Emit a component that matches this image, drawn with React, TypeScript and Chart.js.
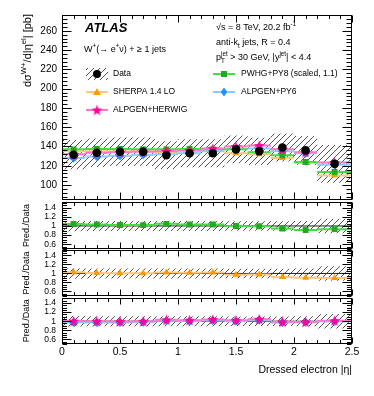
import React, { useEffect, useRef } from 'react';
import { Chart, registerables } from 'chart.js';

Chart.register(...registerables);

// ---------------- data ----------------
const binEdges = [0, 0.2, 0.4, 0.6, 0.8, 1.0, 1.2, 1.4, 1.6, 1.8, 2.0, 2.2, 2.5];
const binCenters = [0.1, 0.3, 0.5, 0.7, 0.9, 1.1, 1.3, 1.5, 1.7, 1.9, 2.1, 2.35];
const dataXsec = [131.5, 133.5, 134.5, 134.5, 131, 133, 133, 137, 135, 139, 136, 122];
const dataRelUnc = [0.115, 0.11, 0.11, 0.11, 0.11, 0.11, 0.11, 0.105, 0.105, 0.105, 0.11, 0.16];
const pwhgPy8 = [137, 137.5, 137.5, 137, 137, 137.5, 137, 137, 134, 131, 124, 113.5];
const sherpa = [135, 135, 135, 135, 134, 135, 135.5, 133, 132, 128, 123, 110];
const alpgenHerwig = [132, 133.5, 134, 134.5, 135, 136, 138, 140, 141, 137, 134, 123.5];
const alpgenPy6 = [128, 129.5, 130.5, 131.5, 132, 133, 135, 137, 138, 135, 133, 121];
const mainYTicks = [100, 120, 140, 160, 180, 200, 220, 240, 260];
const ratioYTicks = [0.6, 0.8, 1, 1.2, 1.4];
const xTicks = [0, 0.5, 1, 1.5, 2, 2.5];
const mainYRange = [85, 276.4];
const ratioYRange = [0.5, 1.52];

const FONT = "'Liberation Sans', Arial, Helvetica, sans-serif";
const COL = {
  green: '#22aa22', greenLine: '#44dd44',
  orange: '#ff9900', orangeLine: '#ffc680',
  pink: '#ff0099', pinkLine: '#ff77cc',
  blue: '#1e8fff', blueLine: '#8fcbff',
};

// ---------------- helpers ----------------
const segs = (vals: number[]) => {
  const out: any[] = [];
  vals.forEach((v, i) => {
    out.push({ x: binEdges[i], y: v }, { x: binEdges[i + 1], y: v }, { x: binEdges[i + 1], y: null });
  });
  return out;
};
const steps = (vals: number[]) =>
  vals.flatMap((v, i) => [{ x: binEdges[i], y: v }, { x: binEdges[i + 1], y: v }]);
const pts = (vals: number[]) => vals.map((v, i) => ({ x: binCenters[i], y: v }));

function makeHatch(): CanvasPattern {
  const s = 6;
  const t = document.createElement('canvas');
  t.width = s; t.height = s;
  const c = t.getContext('2d')!;
  c.strokeStyle = '#555555';
  c.lineWidth = 1;
  c.beginPath();
  c.moveTo(0, s); c.lineTo(s, 0);
  c.moveTo(-1, 1); c.lineTo(1, -1);
  c.moveTo(s - 1, s + 1); c.lineTo(s + 1, s - 1);
  c.stroke();
  return document.createElement('canvas').getContext('2d')!.createPattern(t, 'repeat')!;
}

function makeStar(color: string): HTMLCanvasElement {
  const size = 13;
  const cv = document.createElement('canvas');
  cv.width = size; cv.height = size;
  const c = cv.getContext('2d')!;
  const cx = size / 2, cy = size / 2 + 0.5, ro = 5.8, ri = 2.4;
  c.beginPath();
  for (let k = 0; k < 10; k++) {
    const r = k % 2 === 0 ? ro : ri;
    const a = -Math.PI / 2 + (k * Math.PI) / 5;
    const x = cx + r * Math.cos(a), y = cy + r * Math.sin(a);
    if (k === 0) c.moveTo(x, y); else c.lineTo(x, y);
  }
  c.closePath();
  c.fillStyle = color;
  c.fill();
  return cv;
}

type Part = { t: string; m?: 'sup' | 'sub' | 'subsup' };
function drawRich(ctx: CanvasRenderingContext2D, parts: Part[], x: number, y: number, size: number, draw = true) {
  let cx = x;
  const small = size * 0.7;
  for (const p of parts) {
    if (!p.m) {
      ctx.font = `${size}px ${FONT}`;
      if (draw) ctx.fillText(p.t, cx, y);
      cx += ctx.measureText(p.t).width;
    } else if (p.m === 'sup') {
      ctx.font = `${small}px ${FONT}`;
      if (draw) ctx.fillText(p.t, cx, y - size * 0.42);
      cx += ctx.measureText(p.t).width;
    } else if (p.m === 'sub') {
      ctx.font = `${small}px ${FONT}`;
      if (draw) ctx.fillText(p.t, cx, y + size * 0.28);
      cx += ctx.measureText(p.t).width;
    } else {
      const [a, b] = p.t.split('|');
      ctx.font = `${small}px ${FONT}`;
      if (draw) {
        ctx.fillText(a, cx, y + size * 0.28);
        ctx.fillText(b, cx, y - size * 0.42);
      }
      cx += Math.max(ctx.measureText(a).width, ctx.measureText(b).width);
    }
  }
  return cx - x;
}

function drawMarker(ctx: CanvasRenderingContext2D, kind: string, x: number, y: number, color: string, star?: HTMLCanvasElement) {
  ctx.fillStyle = color;
  ctx.beginPath();
  if (kind === 'circle') {
    ctx.arc(x, y, 4, 0, Math.PI * 2);
    ctx.fill();
  } else if (kind === 'rect') {
    ctx.fillRect(x - 3, y - 3, 6, 6);
  } else if (kind === 'triangle') {
    ctx.moveTo(x, y - 4); ctx.lineTo(x + 4, y + 3); ctx.lineTo(x - 4, y + 3); ctx.closePath(); ctx.fill();
  } else if (kind === 'diamond') {
    ctx.moveTo(x, y - 4.5); ctx.lineTo(x + 3.2, y); ctx.lineTo(x, y + 4.5); ctx.lineTo(x - 3.2, y); ctx.closePath(); ctx.fill();
  } else if (kind === 'star' && star) {
    ctx.drawImage(star, x - star.width / 2, y - star.height / 2);
  }
}

// ---------------- frame / ticks plugin ----------------
type FrameCfg = {
  yMinor: number; yMajor: number; yMajorLen: number; yMinorLen: number;
  xMajorLen: number; xMinorLen: number;
  yLabels: number[]; yLabelFont: number; yLabelX: number;
  xLabels?: number[]; xLabelFont?: number; xLabelY?: number;
  extra?: (chart: any) => void;
};

function framePlugin(cfg: FrameCfg) {
  return {
    id: 'atlasFrame',
    afterDraw(chart: any) {
      const { ctx, chartArea: a, scales } = chart;
      const xs = scales.x, ys = scales.y;
      const L = Math.round(a.left) + 0.5, R = Math.round(a.right) - 0.5;
      const T = Math.round(a.top) + 0.5, B = Math.round(a.bottom) - 0.5;
      ctx.save();
      ctx.strokeStyle = '#000';
      ctx.lineWidth = 1;
      ctx.strokeRect(L, T, R - L, B - T);
      ctx.beginPath();
      for (let i = 0; i <= 25; i++) {
        const px = Math.round(xs.getPixelForValue(i / 10)) + 0.5;
        const len = i % 5 === 0 ? cfg.xMajorLen : cfg.xMinorLen;
        ctx.moveTo(px, B); ctx.lineTo(px, B - len);
        ctx.moveTo(px, T); ctx.lineTo(px, T + len);
      }
      const k0 = Math.ceil(ys.min / cfg.yMinor - 1e-9), k1 = Math.floor(ys.max / cfg.yMinor + 1e-9);
      for (let k = k0; k <= k1; k++) {
        const v = k * cfg.yMinor;
        const r = v / cfg.yMajor;
        const major = Math.abs(r - Math.round(r)) < 1e-6;
        const len = major ? cfg.yMajorLen : cfg.yMinorLen;
        const py = Math.round(ys.getPixelForValue(v)) + 0.5;
        ctx.moveTo(L, py); ctx.lineTo(L + len, py);
        ctx.moveTo(R, py); ctx.lineTo(R - len, py);
      }
      ctx.stroke();
      ctx.fillStyle = '#000';
      ctx.font = `${cfg.yLabelFont}px ${FONT}`;
      ctx.textAlign = 'right';
      ctx.textBaseline = 'middle';
      cfg.yLabels.forEach((v) => ctx.fillText(String(v), cfg.yLabelX, ys.getPixelForValue(v)));
      if (cfg.xLabels) {
        ctx.font = `${cfg.xLabelFont}px ${FONT}`;
        ctx.textAlign = 'center';
        ctx.textBaseline = 'alphabetic';
        cfg.xLabels.forEach((v) => ctx.fillText(String(v), xs.getPixelForValue(v), cfg.xLabelY!));
      }
      ctx.restore();
      if (cfg.extra) {
        ctx.save();
        cfg.extra(chart);
        ctx.restore();
      }
    },
  };
}

// ---------------- dataset builders ----------------
function bandDs(lo: number[], hi: number[], pattern: CanvasPattern) {
  return [
    { data: steps(lo), borderColor: 'rgba(0,0,0,0)', borderWidth: 0, pointRadius: 0, showLine: true, fill: false, order: 10 },
    { data: steps(hi), borderColor: 'rgba(0,0,0,0)', borderWidth: 0, pointRadius: 0, showLine: true, fill: '-1', backgroundColor: pattern, order: 10 },
  ];
}
function lineDs(vals: number[], color: string, order: number, width = 2) {
  return { data: segs(vals), borderColor: color, borderWidth: width, pointRadius: 0, showLine: true, fill: false, order, spanGaps: false };
}
function markDs(vals: number[], color: string, style: any, radius: number, order: number) {
  return {
    data: pts(vals), showLine: false, pointStyle: style, pointRadius: radius,
    pointBackgroundColor: color, pointBorderColor: color, pointBorderWidth: 0, order,
  };
}
function refLineDs() {
  return { data: [{ x: 0, y: 1 }, { x: 2.5, y: 1 }], borderColor: '#222', borderWidth: 1, pointRadius: 0, showLine: true, fill: false, order: 8 };
}

function baseOptions(pad: any, yr: number[]) {
  return {
    responsive: false,
    animation: false,
    events: [],
    layout: { padding: pad },
    scales: {
      x: { type: 'linear', min: 0, max: 2.5, display: false },
      y: { type: 'linear', min: yr[0], max: yr[1], display: false },
    },
    plugins: { legend: { display: false }, tooltip: { enabled: false } },
  };
}

function drawRatioTitle(ctx: CanvasRenderingContext2D, chart: any) {
  const a = chart.chartArea;
  ctx.fillStyle = '#000';
  ctx.translate(29, (a.top + a.bottom) / 2);
  ctx.rotate(-Math.PI / 2);
  ctx.font = `9px ${FONT}`;
  ctx.textAlign = 'center';
  ctx.textBaseline = 'alphabetic';
  ctx.fillText('Pred./Data', 0, 0);
}

export default function App() {
  const r0 = useRef<HTMLCanvasElement>(null);
  const r1 = useRef<HTMLCanvasElement>(null);
  const r2 = useRef<HTMLCanvasElement>(null);
  const r3 = useRef<HTMLCanvasElement>(null);

  useEffect(() => {
    const hatch = makeHatch();
    const star = makeStar(COL.pink);
    const lo = dataXsec.map((v, i) => v * (1 - dataRelUnc[i]));
    const hi = dataXsec.map((v, i) => v * (1 + dataRelUnc[i]));
    const rLo = dataRelUnc.map((u) => 1 - u);
    const rHi = dataRelUnc.map((u) => 1 + u);
    const ratio = (m: number[]) => m.map((v, i) => v / dataXsec[i]);

    const ratioFrame = (extra?: (c: any) => void, withX = false): FrameCfg => ({
      yMinor: 0.05, yMajor: 0.2, yMajorLen: 9, yMinorLen: 4.5,
      xMajorLen: 6, xMinorLen: 3.5,
      yLabels: ratioYTicks, yLabelFont: 8.5, yLabelX: 56,
      xLabels: withX ? xTicks : undefined, xLabelFont: 10.5, xLabelY: 62,
      extra,
    });

    const mainExtra = (chart: any) => {
      const ctx: CanvasRenderingContext2D = chart.ctx;
      ctx.fillStyle = '#000';
      ctx.textAlign = 'left';
      ctx.textBaseline = 'alphabetic';
      // y-axis title
      ctx.save();
      ctx.translate(31, 14);
      ctx.rotate(-Math.PI / 2);
      const title: Part[] = [{ t: 'dσ' }, { t: 'W+', m: 'sup' }, { t: '/d|η' }, { t: 'el', m: 'sup' }, { t: '| [pb]' }];
      const w = drawRich(ctx, title, 0, 0, 11, false);
      drawRich(ctx, title, -w, 0, 11);
      ctx.restore();
      // ATLAS
      ctx.font = `italic bold 13px ${FONT}`;
      ctx.fillText('ATLAS', 85, 32);
      drawRich(ctx, [{ t: 'W' }, { t: '+', m: 'sup' }, { t: '(→ e' }, { t: '+', m: 'sup' }, { t: 'ν) + ≥ 1 jets' }], 84, 52, 9);
      // right column texts
      drawRich(ctx, [{ t: '√s = 8 TeV, 20.2 fb' }, { t: '-1', m: 'sup' }], 216, 30, 9);
      drawRich(ctx, [{ t: 'anti-k' }, { t: 't', m: 'sub' }, { t: ' jets, R = 0.4' }], 216, 45, 9);
      drawRich(ctx, [{ t: 'p' }, { t: 'T|jet', m: 'subsup' }, { t: ' > 30 GeV, |y' }, { t: 'jet', m: 'sup' }, { t: '| < 4.4' }], 216, 60, 9);
      // legend
      ctx.textBaseline = 'middle';
      ctx.fillStyle = hatch;
      ctx.fillRect(86, 68, 22, 12);
      drawMarker(ctx, 'circle', 97, 74, '#000');
      const item = (x: number, y: number, lineCol: string, kind: string, col: string) => {
        ctx.strokeStyle = lineCol;
        ctx.lineWidth = 2;
        ctx.beginPath();
        ctx.moveTo(x, y); ctx.lineTo(x + 22, y);
        ctx.stroke();
        drawMarker(ctx, kind, x + 11, y, col, star);
      };
      item(86, 92, COL.orangeLine, 'triangle', COL.orange);
      item(86, 110, COL.pinkLine, 'star', COL.pink);
      item(213, 74, COL.greenLine, 'rect', COL.green);
      item(213, 92, COL.blueLine, 'diamond', COL.blue);
      ctx.fillStyle = '#000';
      ctx.font = `8.5px ${FONT}`;
      ctx.fillText('Data', 113, 74);
      ctx.fillText('SHERPA 1.4 LO', 113, 92);
      ctx.fillText('ALPGEN+HERWIG', 113, 110);
      ctx.fillText('PWHG+PY8 (scaled, 1.1)', 241, 74);
      ctx.fillText('ALPGEN+PY6', 241, 92);
    };

    const main = new Chart(r0.current!, {
      type: 'line',
      data: {
        datasets: [
          ...bandDs(lo, hi, hatch),
          lineDs(alpgenPy6, COL.blueLine, 4),
          lineDs(sherpa, COL.orangeLine, 4),
          lineDs(alpgenHerwig, COL.pinkLine, 3),
          lineDs(pwhgPy8, COL.greenLine, 3),
          markDs(alpgenPy6, COL.blue, 'rectRot', 4.5, 2),
          markDs(sherpa, COL.orange, 'triangle', 4, 2),
          markDs(alpgenHerwig, COL.pink, star, 4, 1),
          markDs(pwhgPy8, COL.green, 'rect', 4.2, 1),
          markDs(dataXsec, '#000', 'circle', 4.3, 0),
        ] as any,
      },
      options: baseOptions({ left: 62, right: 22, top: 15, bottom: 2 }, mainYRange) as any,
      plugins: [framePlugin({
        yMinor: 4, yMajor: 20, yMajorLen: 9, yMinorLen: 5,
        xMajorLen: 7, xMinorLen: 3.5,
        yLabels: mainYTicks, yLabelFont: 10, yLabelX: 57,
        extra: mainExtra,
      })],
    });

    const rp1 = new Chart(r1.current!, {
      type: 'line',
      data: {
        datasets: [
          ...bandDs(rLo, rHi, hatch),
          refLineDs(),
          lineDs(ratio(pwhgPy8), COL.greenLine, 3),
          markDs(ratio(pwhgPy8), COL.green, 'rect', 4.2, 1),
        ] as any,
      },
      options: baseOptions({ left: 62, right: 22, top: 3, bottom: 3 }, ratioYRange) as any,
      plugins: [framePlugin(ratioFrame((c) => drawRatioTitle(c.ctx, c)))],
    });

    const rp2 = new Chart(r2.current!, {
      type: 'line',
      data: {
        datasets: [
          ...bandDs(rLo, rHi, hatch),
          refLineDs(),
          lineDs(ratio(sherpa), COL.orangeLine, 3),
          markDs(ratio(sherpa), COL.orange, 'triangle', 4, 1),
        ] as any,
      },
      options: baseOptions({ left: 62, right: 22, top: 3, bottom: 3 }, ratioYRange) as any,
      plugins: [framePlugin(ratioFrame((c) => drawRatioTitle(c.ctx, c)))],
    });

    const rp3 = new Chart(r3.current!, {
      type: 'line',
      data: {
        datasets: [
          ...bandDs(rLo, rHi, hatch),
          refLineDs(),
          lineDs(ratio(alpgenPy6), COL.blueLine, 4),
          lineDs(ratio(alpgenHerwig), COL.pinkLine, 3),
          markDs(ratio(alpgenPy6), COL.blue, 'rectRot', 4.5, 2),
          markDs(ratio(alpgenHerwig), COL.pink, star, 4, 1),
        ] as any,
      },
      options: baseOptions({ left: 62, right: 22, top: 3, bottom: 52 }, ratioYRange) as any,
      plugins: [framePlugin(ratioFrame((c) => {
        drawRatioTitle(c.ctx, c);
        c.ctx.restore();
        c.ctx.save();
        const ctx: CanvasRenderingContext2D = c.ctx;
        ctx.fillStyle = '#000';
        ctx.font = `10.5px ${FONT}`;
        ctx.textAlign = 'right';
        ctx.textBaseline = 'alphabetic';
        ctx.fillText('Dressed electron |η|', 352, 80);
      }, true))],
    });

    return () => {
      main.destroy(); rp1.destroy(); rp2.destroy(); rp3.destroy();
    };
  }, []);

  const abs = (top: number, h: number): React.CSSProperties => ({ position: 'absolute', left: 0, top, width: 374, height: h });
  return (
    <div style={{ position: 'fixed', left: 0, top: 0, width: 374, height: 396, background: '#fff', overflow: 'hidden' }}>
      <canvas ref={r0} width={374} height={204} style={abs(0, 204)} />
      <canvas ref={r1} width={374} height={55} style={abs(198, 55)} />
      <canvas ref={r2} width={374} height={54} style={abs(246, 54)} />
      <canvas ref={r3} width={374} height={103} style={abs(293, 103)} />
    </div>
  );
}
